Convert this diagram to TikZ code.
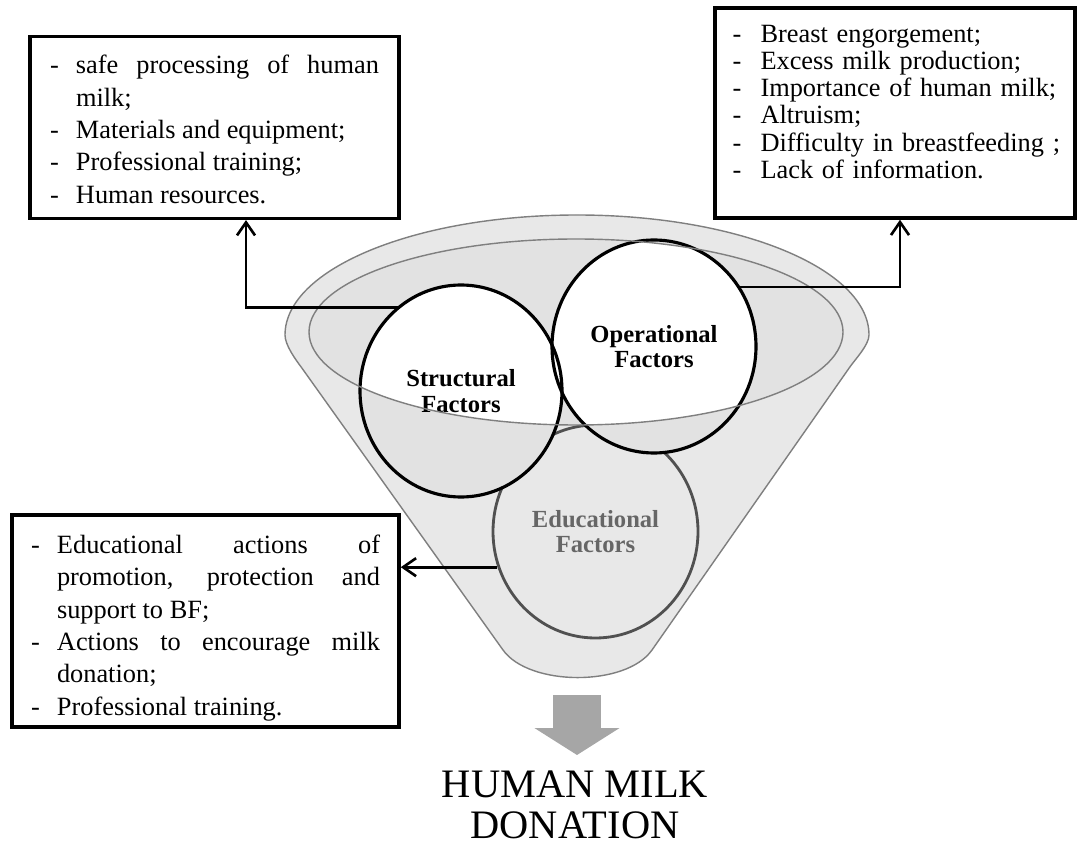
\documentclass[tikz,border=0pt]{standalone}
\usepackage{fontspec}
\setmainfont{Liberation Serif}
\usepackage{xcolor}
\usepackage{tikz}
\usetikzlibrary{
  arrows.meta,
  positioning,
  shapes.geometric
}
\definecolor{FunnelGray}{HTML}{E8E8E8}
\definecolor{RimGray}{HTML}{E2E2E2}
\definecolor{EdgeGray}{HTML}{7F7F7F}
\definecolor{EduGray}{HTML}{505050}
\definecolor{EduText}{HTML}{666666}
\definecolor{ArrowGray}{HTML}{A6A6A6}
\hyphenpenalty=10000
\exhyphenpenalty=10000
\newcommand{\dashitem}[2][0.52cm]{%
  \par\noindent\hangindent=#1\hangafter=1\makebox[#1][l]{-}#2}
\tikzset{
  listbox/.style={
    draw,
    line width=2pt,
    fill=white,
    inner xsep=0.4cm,
    inner ysep=0.1cm,
    font=\fontsize{15}{18.4}\selectfont
  },
  funnel/.style={
    fill=FunnelGray,
    draw=EdgeGray,
    line width=0.8pt
  },
  factor/.style={
    ellipse,
    inner sep=0pt,
    align=center,
    font=\fontsize{14}{14.5}\selectfont\bfseries
  },
  ringline/.style={
    draw=black,
    line width=1.8pt
  },
  connection/.style={
    -{Straight Barb[length=2.6mm,width=3.6mm]},
    line width=1.5pt
  },
  flowarrow/.style={
    -{Triangle[length=5.4mm,width=16.8mm]},
    draw=ArrowGray,
    line width=9.6mm
  }
}

\begin{document}
\begin{tikzpicture}

  \useasboundingbox (0,0) rectangle (21.54,-16.9);

  \node[
    listbox,
    align=justify,
    text width=6.58cm,
    minimum width=7.38cm,
    minimum height=3.62cm
  ] (structbox) at (4.29,-2.55) {
    \dashitem{safe processing of human\linebreak milk;}
    \dashitem{Materials and equipment;}
    \dashitem{Professional training;}
    \dashitem{Human resources.\rule[-0.2cm]{0pt}{0.2cm}}
  };

  \node[
    listbox,
    align=left,
    inner xsep=0.35cm,
    text width=6.5cm,
    minimum width=7.2cm,
    minimum height=4.2cm,
    font=\fontsize{15}{15.5}\selectfont
  ] (operbox) at (17.9,-2.26) {
    \dashitem[0.56cm]{Breast engorgement;}
    \dashitem[0.56cm]{Excess milk production;}
    \dashitem[0.56cm]{Importance of human milk;}
    \dashitem[0.56cm]{Altruism;}
    \dashitem[0.56cm]{\mbox{Difficulty in breastfeeding ;}}
    \dashitem[0.56cm]{Lack of information.\rule[-0.65cm]{0pt}{0.65cm}}
  };

  \node[
    listbox,
    align=justify,
    inner xsep=0.38cm,
    text width=6.98cm,
    minimum width=7.74cm,
    minimum height=4.24cm
  ] (edubox) at (4.11,-12.42) {
    \dashitem{Educational actions of\linebreak promotion, protection and\linebreak support to BF;}
    \dashitem{Actions to encourage milk\linebreak donation;}
    \dashitem{Professional training.}
  };

  \path[funnel]
    (5.7,-6.7) arc[start angle=180, end angle=0, x radius=5.84cm, y radius=2.4cm]
    .. controls (17.38,-6.9) and (17.10,-7.19) .. (16.99,-7.35)
    -- (13.04,-13.0)
    .. controls (12.52,-13.74) and (10.58,-13.73) .. (10.06,-13.0)
    -- (6.03,-7.35)
    .. controls (5.91,-7.19) and (5.7,-6.9) .. cycle;

  \coordinate (rim) at (11.52,-6.64);
  \fill[RimGray] (rim) ellipse [x radius=5.34cm, y radius=1.86cm];

  \node[
    factor,
    fill=FunnelGray,
    draw=EduGray,
    line width=1.6pt,
    text=EduText,
    minimum width=4.1cm,
    minimum height=4.26cm
  ] (educational) at (11.91,-10.63) {
    Educational\\
    Factors
  };

  \node[
    factor,
    fill=RimGray,
    minimum width=4.04cm,
    minimum height=4.24cm,
    path picture={
      \fill[white] (rim) ellipse [x radius=5.34cm, y radius=1.86cm];
    }
  ] (structural) at (9.22,-7.82) {
    Structural\\
    Factors
  };

  \node[
    factor,
    fill=RimGray,
    minimum width=4.08cm,
    minimum height=4.26cm,
    path picture={
      \fill[white] (rim) ellipse [x radius=5.34cm, y radius=1.86cm];
    }
  ] (operational) at (13.08,-6.93) {
    Operational\\
    Factors
  };

  \draw[ringline] (structural.center) ellipse [x radius=2.02cm, y radius=2.12cm];
  \draw[ringline] (operational.center) ellipse [x radius=2.04cm, y radius=2.13cm];

  \draw[draw=EdgeGray, line width=0.8pt] (rim) ellipse [x radius=5.34cm, y radius=1.86cm];

  \draw[connection]
  (structural.127) -| ([xshift=0.63cm]structbox.south);

  \draw[connection]
  (operational.35) -| ([xshift=0.1cm]operbox.south);

  \draw[connection]
  (educational.200) -- (educational.200 -| edubox.east);

  \coordinate (funnelbottom) at (11.54,-13.9);
  \coordinate (arrowtip) at (11.54,-15.1);
  \draw[flowarrow] (funnelbottom) -- (arrowtip);

  \node[
    anchor=north,
    inner sep=0pt,
    align=center,
    font=\fontsize{23}{23.5}\selectfont
  ] (donation) at (11.5,-15.4) {
    HUMAN MILK\\
    DONATION
  };

\end{tikzpicture}
\end{document}
